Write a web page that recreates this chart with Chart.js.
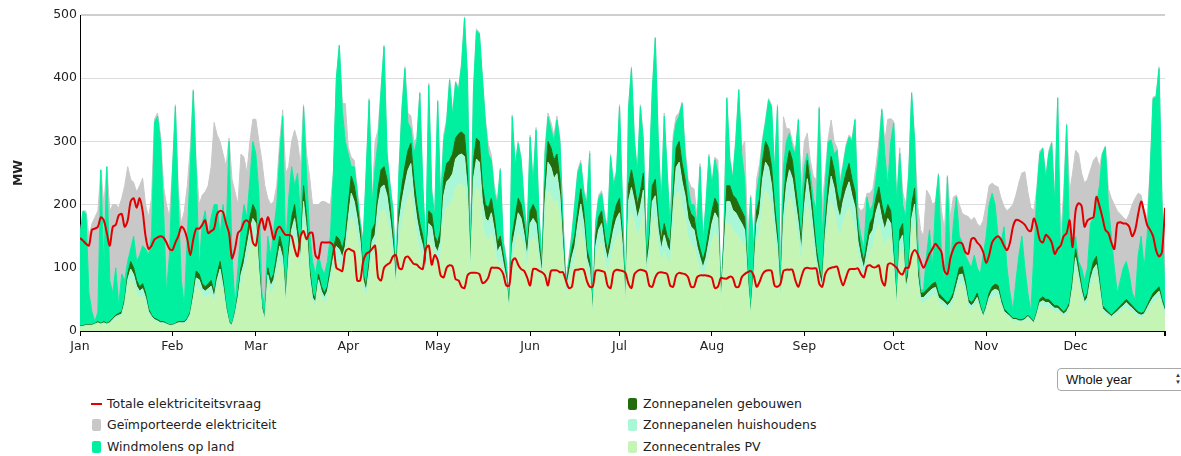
<!DOCTYPE html>
<html>
<head>
<meta charset="utf-8">
<script src="https://cdn.jsdelivr.net/npm/chart.js@4.4.1/dist/chart.umd.min.js"></script>
<style>
  body { margin: 0; background: #fff; font-family: "DejaVu Sans", sans-serif; }
  #wrap { position: relative; width: 1181px; height: 456px; overflow: hidden; }
  #chart { position: absolute; left: 0; top: 0; }
  .legend-item { position: absolute; font-size: 12.5px; color: #222; line-height: 14px; white-space: nowrap; }
  .legend-item .mark { position: absolute; left: -15px; top: 1px; width: 9px; height: 12px; border-radius: 2px; }
  .legend-item .mark.line { top: 6px; height: 2px; width: 11px; left: -16px; border-radius: 0; }
  #period { position: absolute; left: 1057px; top: 368px; width: 140px; height: 23px; border: 1px solid #a8a8a8;
            border-radius: 4px; box-sizing: border-box; font-family: "Liberation Sans", Arial, sans-serif;
            font-size: 13px; line-height: 21px; padding-left: 8px; color: #111; background: #fff; }
  #period .arrows { position: absolute; left: 117px; top: 3px; font-size: 6px; line-height: 7px; color: #333; }
</style>
</head>
<body>
<div id="wrap">
  <canvas id="chart" width="1181" height="360"></canvas>
  <div class="legend-item" style="left:107px; top:397px;"><span class="mark line" style="background:#e00000"></span>Totale elektriciteitsvraag</div>
  <div class="legend-item" style="left:107px; top:418px;"><span class="mark" style="background:#c8c8c8"></span>Geïmporteerde elektriciteit</div>
  <div class="legend-item" style="left:107px; top:440px;"><span class="mark" style="background:#00f0a0"></span>Windmolens op land</div>
  <div class="legend-item" style="left:643px; top:397px;"><span class="mark" style="background:#236c0c"></span>Zonnepanelen gebouwen</div>
  <div class="legend-item" style="left:643px; top:418px;"><span class="mark" style="background:#a8f7d6"></span>Zonnepanelen huishoudens</div>
  <div class="legend-item" style="left:643px; top:440px;"><span class="mark" style="background:#c5f5b5"></span>Zonnecentrales PV</div>
  <div id="period">Whole year<span class="arrows">▲<br>▼</span></div>
</div>
<script>
// Daily values over one year (MW), day 0 = 1 January
const monthLabels = ['Jan', 'Feb', 'Mar', 'Apr', 'May', 'Jun', 'Jul', 'Aug', 'Sep', 'Oct', 'Nov', 'Dec'];
const monthStarts = [0, 31, 59, 90, 120, 151, 181, 212, 243, 273, 304, 334];
const yTicks = [0, 100, 200, 300, 400, 500];

const zonnecentralesPV = [
  6,6,7,7,7,9,11,9,11,9,
  11,15,19,21,22,37,67,81,74,59,
  52,56,44,26,19,15,13,11,11,9,
  7,7,9,11,11,11,15,22,44,70,
  67,56,52,56,59,44,67,81,59,30,
  11,7,22,44,74,89,111,133,148,141,
  81,30,15,74,59,67,89,111,96,37,
  96,133,148,118,96,170,133,74,44,37,
  67,52,44,52,74,96,111,107,96,111,
  148,181,170,148,118,67,52,81,118,126,
  167,189,192,178,148,111,59,141,170,192,
  211,220,178,148,126,111,81,141,137,111,
  104,118,178,196,200,207,226,231,233,229,
  185,81,200,226,222,170,148,144,155,133,
  104,111,89,67,26,111,133,155,148,126,
  96,141,148,141,104,74,170,222,215,200,
  207,178,111,52,74,96,111,141,167,141,
  96,81,22,111,133,141,111,93,111,133,
  148,155,111,33,170,189,170,148,163,185,
  81,111,170,178,133,107,126,111,104,163,
  215,222,196,178,148,137,133,111,96,83,
  96,118,141,155,148,33,104,170,170,159,
  155,148,141,133,67,21,74,141,155,200,
  222,215,192,148,111,44,148,192,212,200,
  170,141,104,163,200,170,133,96,74,59,
  126,170,204,189,163,148,170,185,196,178,
  163,118,96,81,104,126,133,155,169,148,
  133,148,141,89,33,118,126,56,74,148,
  167,74,44,44,48,52,56,57,44,41,
  37,33,37,44,59,74,75,59,37,33,
  37,44,30,19,30,44,52,55,53,37,
  26,22,19,15,15,13,13,15,19,15,
  11,22,37,40,37,37,33,30,30,26,
  22,26,33,59,96,74,52,37,44,67,
  81,87,59,30,26,22,19,22,26,30,
  33,37,33,30,26,22,21,22,30,37,
  44,48,52,37,26
];

const zonnepanelenHuishoudens = [
  1,1,2,2,2,2,2,2,2,2,
  2,3,4,4,5,8,14,17,15,12,
  11,11,9,5,4,3,3,2,2,2,
  2,2,2,2,2,2,3,5,9,14,
  14,11,11,11,12,9,14,17,12,6,
  2,2,5,9,15,18,23,27,30,29,
  17,6,3,15,12,14,18,23,20,8,
  20,27,30,24,20,35,27,15,9,8,
  14,11,9,11,15,20,23,22,20,23,
  30,37,35,30,24,14,11,17,24,26,
  34,38,39,36,30,23,12,29,35,39,
  43,45,36,30,26,23,17,29,28,23,
  21,24,36,40,41,42,46,47,47,47,
  38,17,41,46,45,35,30,29,32,27,
  21,23,18,14,5,23,27,32,30,26,
  20,29,30,29,21,15,35,45,44,41,
  42,36,23,11,15,20,23,29,34,29,
  20,17,5,23,27,29,23,19,23,27,
  30,32,23,7,35,38,35,30,33,38,
  17,23,35,36,27,22,26,23,21,33,
  44,45,40,36,30,28,27,23,20,17,
  20,24,29,32,30,7,21,35,35,32,
  32,30,29,27,14,4,15,29,32,41,
  45,44,39,30,23,9,30,39,43,41,
  35,29,21,33,41,35,27,20,15,12,
  26,35,41,38,33,30,35,38,40,36,
  33,24,20,17,21,26,27,32,34,30,
  27,30,29,18,7,24,26,11,15,30,
  34,15,9,9,10,11,11,12,9,8,
  8,7,8,9,12,15,15,12,8,7,
  8,9,6,4,6,9,11,11,11,8,
  5,5,4,3,3,3,3,3,4,3,
  2,5,8,8,8,8,7,6,6,5,
  5,5,7,12,20,15,11,8,9,14,
  17,18,12,6,5,5,4,5,5,6,
  7,8,7,6,5,5,4,5,6,8,
  9,10,11,8,5
];

const zonnepanelenGebouwen = [
  1,1,1,1,1,1,2,1,2,1,
  2,2,2,3,3,5,9,12,11,9,
  7,8,7,4,2,2,2,2,2,1,
  1,1,1,2,2,2,2,3,7,11,
  9,8,7,8,9,7,9,12,9,4,
  2,1,3,7,11,13,16,20,22,20,
  12,4,2,11,9,9,13,16,14,5,
  14,20,22,18,14,25,20,11,7,5,
  9,7,7,7,11,14,16,16,14,16,
  22,27,25,22,18,9,7,12,18,18,
  24,28,29,26,22,16,9,20,25,29,
  31,32,26,22,18,16,12,20,20,16,
  15,18,26,29,29,31,33,34,35,34,
  27,12,29,33,33,25,22,22,23,20,
  15,16,13,9,4,16,20,23,22,18,
  14,20,22,20,15,11,25,33,31,29,
  31,26,16,7,11,14,16,20,24,20,
  14,12,3,16,20,20,16,13,16,20,
  22,23,16,5,25,28,25,22,24,27,
  12,16,25,26,20,16,18,16,15,24,
  31,33,29,26,22,20,20,16,14,12,
  14,18,20,23,22,5,15,25,25,24,
  23,22,20,20,9,3,11,20,23,29,
  33,31,29,22,16,7,22,29,31,29,
  25,20,15,24,29,25,20,14,11,9,
  18,25,31,28,24,22,25,27,29,26,
  24,18,14,12,15,18,20,23,25,22,
  20,22,20,13,4,18,18,8,11,22,
  25,11,7,7,7,7,8,8,7,6,
  5,5,5,7,9,11,12,9,5,5,
  5,7,4,2,4,7,7,8,8,5,
  4,3,2,2,2,2,2,2,2,2,
  2,3,5,6,5,5,5,4,4,4,
  3,4,5,9,14,11,7,5,7,9,
  12,13,9,4,4,3,2,3,4,4,
  5,5,5,4,4,3,3,3,4,5,
  7,7,7,5,4
];

const windmolensOpLand = [
  142,182,175,50,20,3,15,243,85,248,
  65,40,75,12,60,30,20,20,50,30,
  50,60,70,85,125,310,322,285,185,48,
  110,240,343,185,65,25,130,230,320,155,
  10,95,120,75,100,140,110,40,120,110,
  285,110,10,40,60,80,30,60,100,90,
  110,20,20,50,40,70,80,130,210,80,
  80,80,30,90,50,125,70,60,50,40,
  30,30,30,40,50,120,250,307,220,150,
  80,15,30,20,10,50,180,255,40,90,
  75,125,190,40,30,40,10,60,120,155,
  45,23,40,100,206,80,20,199,35,30,
  223,40,60,65,127,60,88,68,105,185,
  150,10,110,170,170,170,130,85,60,40,
  60,105,20,20,5,189,80,87,70,30,
  20,117,30,128,40,10,50,39,30,30,
  54,60,30,5,10,20,50,60,40,30,
  70,171,10,20,30,28,30,35,126,50,
  50,145,50,5,120,160,70,50,135,50,
  20,100,150,223,120,55,170,100,20,80,
  40,40,95,40,30,15,20,20,130,28,
  70,116,40,61,50,5,10,138,40,25,
  90,181,90,60,10,184,30,30,40,30,
  30,75,95,50,205,20,60,40,27,20,
  50,144,60,40,11,20,30,60,252,70,
  60,70,26,25,66,30,30,40,42,60,
  114,20,20,20,72,20,20,30,52,150,
  100,30,110,209,156,121,30,105,144,176,
  74,50,5,5,55,90,25,123,187,65,
  20,199,50,110,132,50,38,40,60,55,
  70,40,50,95,110,140,148,126,78,90,
  130,70,35,13,60,102,132,80,35,10,
  105,190,230,235,190,230,252,160,328,65,
  170,291,105,60,20,10,30,30,40,80,
  70,82,150,240,256,170,125,70,25,40,
  55,60,45,20,15,90,122,70,110,200,
  308,305,345,150,15
];

const geimporteerdeElektriciteit = [
  0,0,5,90,140,165,160,0,100,0,
  110,140,100,155,120,150,150,110,85,110,
  110,107,70,60,60,5,5,10,30,140,
  60,5,3,20,90,150,80,30,2,10,
  100,45,30,80,80,130,110,150,80,110,
  5,120,180,100,120,75,70,60,35,55,
  80,210,190,60,80,45,30,20,10,120,
  50,40,88,50,80,3,30,85,90,110,
  80,105,115,92,50,0,0,0,10,60,
  10,15,10,5,5,5,5,3,5,40,
  18,5,2,5,5,5,5,5,5,3,
  15,20,20,5,2,5,5,3,5,5,
  2,5,10,5,3,5,2,5,5,2,
  2,5,5,3,2,2,5,15,8,10,
  5,3,5,5,5,3,5,3,5,5,
  5,3,10,4,5,5,10,6,10,10,
  6,5,5,5,5,5,5,5,5,5,
  5,4,5,5,5,4,5,5,4,5,
  5,3,5,5,5,3,5,5,3,5,
  5,5,5,2,5,5,5,5,5,10,
  10,5,2,10,10,28,25,10,5,5,
  5,4,5,4,20,5,5,2,5,5,
  5,2,10,60,50,3,5,20,15,5,
  5,3,3,5,3,5,79,20,7,10,
  5,2,30,40,32,20,35,49,3,50,
  20,5,32,20,4,10,5,5,3,5,
  2,17,40,65,6,28,25,20,20,2,
  20,105,36,3,10,9,20,20,6,2,
  5,50,95,85,103,55,100,5,3,71,
  90,2,80,42,3,50,46,63,71,75,
  60,70,75,55,50,30,16,30,78,70,
  32,90,135,167,135,115,100,152,160,165,
  71,5,5,1,5,5,3,10,2,50,
  20,2,70,110,136,170,150,154,140,85,
  90,76,30,2,2,25,60,100,130,105,
  80,65,95,140,160,98,65,90,30,5,
  2,2,3,10,70
];

const totaleElektriciteitsvraag = [
  147,143,138,135,160,162,165,180,175,155,
  135,165,168,183,185,165,175,205,210,195,
  210,190,150,130,135,145,148,150,148,140,
  130,128,140,150,165,160,145,120,145,162,
  162,168,175,155,158,162,185,190,188,170,
  155,115,130,155,160,172,175,168,140,135,
  165,178,160,180,165,145,160,165,158,152,
  152,150,130,118,150,158,145,155,155,120,
  115,140,140,140,140,135,100,97,95,125,
  130,128,125,80,80,110,122,125,130,135,
  85,80,100,105,108,118,120,100,98,115,
  118,112,106,105,100,98,130,135,105,120,
  112,88,85,100,104,102,82,80,70,68,
  88,92,92,92,90,76,78,85,100,100,
  100,98,90,72,72,110,115,105,98,95,
  85,72,98,98,95,93,88,72,95,96,
  96,93,93,80,68,70,96,97,98,97,
  80,70,70,95,96,95,93,72,68,93,
  97,96,95,92,75,68,90,95,97,96,
  93,72,70,85,92,93,92,90,72,70,
  88,92,91,90,85,70,70,85,88,88,
  88,87,84,68,70,84,83,83,86,84,
  70,70,85,90,93,95,88,70,78,90,
  95,96,95,72,70,75,95,97,97,97,
  80,70,85,98,100,99,99,99,75,70,
  90,98,100,101,102,85,72,85,97,98,
  98,99,90,85,102,104,101,101,104,80,
  72,105,107,104,100,92,90,100,100,120,
  128,122,110,100,110,122,130,138,132,125,
  95,90,115,130,138,140,138,125,122,145,
  147,140,135,125,108,120,140,147,150,145,
  135,128,140,165,176,175,172,168,160,158,
  178,165,144,140,152,148,140,122,130,135,
  150,155,175,133,190,202,198,165,175,178,
  180,212,198,180,160,155,140,130,170,172,
  170,170,165,150,160,185,205,188,168,160,
  150,128,118,125,195
];

const days = totaleElektriciteitsvraag.map((_, i) => i);
const lastDay = days.length - 1;

function area(label, data, color) {
  return {
    label: label,
    data: data,
    stack: 'aanbod',
    backgroundColor: color,
    borderColor: color,
    borderWidth: 1,
    pointRadius: 0,
    tension: 0,
    fill: '-1'
  };
}

const datasets = [
  {
    label: 'Totale elektriciteitsvraag',
    data: totaleElektriciteitsvraag,
    stack: 'vraag',
    borderColor: '#e00000',
    borderWidth: 2,
    pointRadius: 0,
    tension: 0.3,
    fill: false
  },
  Object.assign(area('Zonnecentrales PV', zonnecentralesPV, '#c5f5b5'), { fill: 'origin' }),
  area('Zonnepanelen huishoudens', zonnepanelenHuishoudens, '#a8f7d6'),
  area('Zonnepanelen gebouwen', zonnepanelenGebouwen, '#236c0c'),
  area('Windmolens op land', windmolensOpLand, '#00f0a0'),
  area('Geïmporteerde elektriciteit', geimporteerdeElektriciteit, '#c8c8c8')
];

const tickFont = { family: 'DejaVu Sans', size: 12.5 };

new Chart(document.getElementById('chart'), {
  type: 'line',
  data: { labels: days, datasets: datasets },
  options: {
    responsive: false,
    animation: false,
    layout: { padding: { left: 0, right: 16, top: 15, bottom: 0 } },
    plugins: { legend: { display: false }, tooltip: { enabled: false } },
    scales: {
      x: {
        type: 'linear',
        min: 0,
        max: lastDay,
        afterBuildTicks: (scale) => {
          scale.ticks = monthStarts.concat([lastDay]).map(v => ({ value: v }));
        },
        afterFit: (scale) => { scale.height = 29; },
        ticks: {
          autoSkip: false,
          maxRotation: 0,
          padding: 3,
          color: '#222',
          font: tickFont,
          callback: (value) => {
            const i = monthStarts.indexOf(value);
            return i >= 0 ? monthLabels[i] : '';
          }
        },
        grid: {
          drawOnChartArea: false,
          drawTicks: true,
          tickLength: 5,
          color: '#000',
          lineWidth: (ctx) => (ctx.tick && ctx.tick.value === lastDay ? 2 : 1)
        },
        border: { display: true, color: '#000', width: 1 }
      },
      y: {
        stacked: true,
        min: 0,
        max: 500,
        afterBuildTicks: (scale) => {
          scale.ticks = yTicks.map(v => ({ value: v }));
        },
        afterFit: (scale) => { scale.width = 80; },
        ticks: { padding: 3, color: '#222', font: tickFont },
        grid: {
          drawTicks: false,
          color: (ctx) => (ctx.tick && ctx.tick.value === 500 ? '#cfcfcf' : '#dcdcdc'),
          lineWidth: (ctx) => (ctx.tick && ctx.tick.value === 500 ? 2 : 1)
        },
        border: { display: true, color: '#000', width: 1 },
        title: {
          display: true,
          text: 'MW',
          color: '#222',
          font: { family: 'DejaVu Sans', size: 12.5, weight: 'bold' },
          padding: { top: 11, bottom: 0 }
        }
      }
    }
  }
});
</script>
</body>
</html>
